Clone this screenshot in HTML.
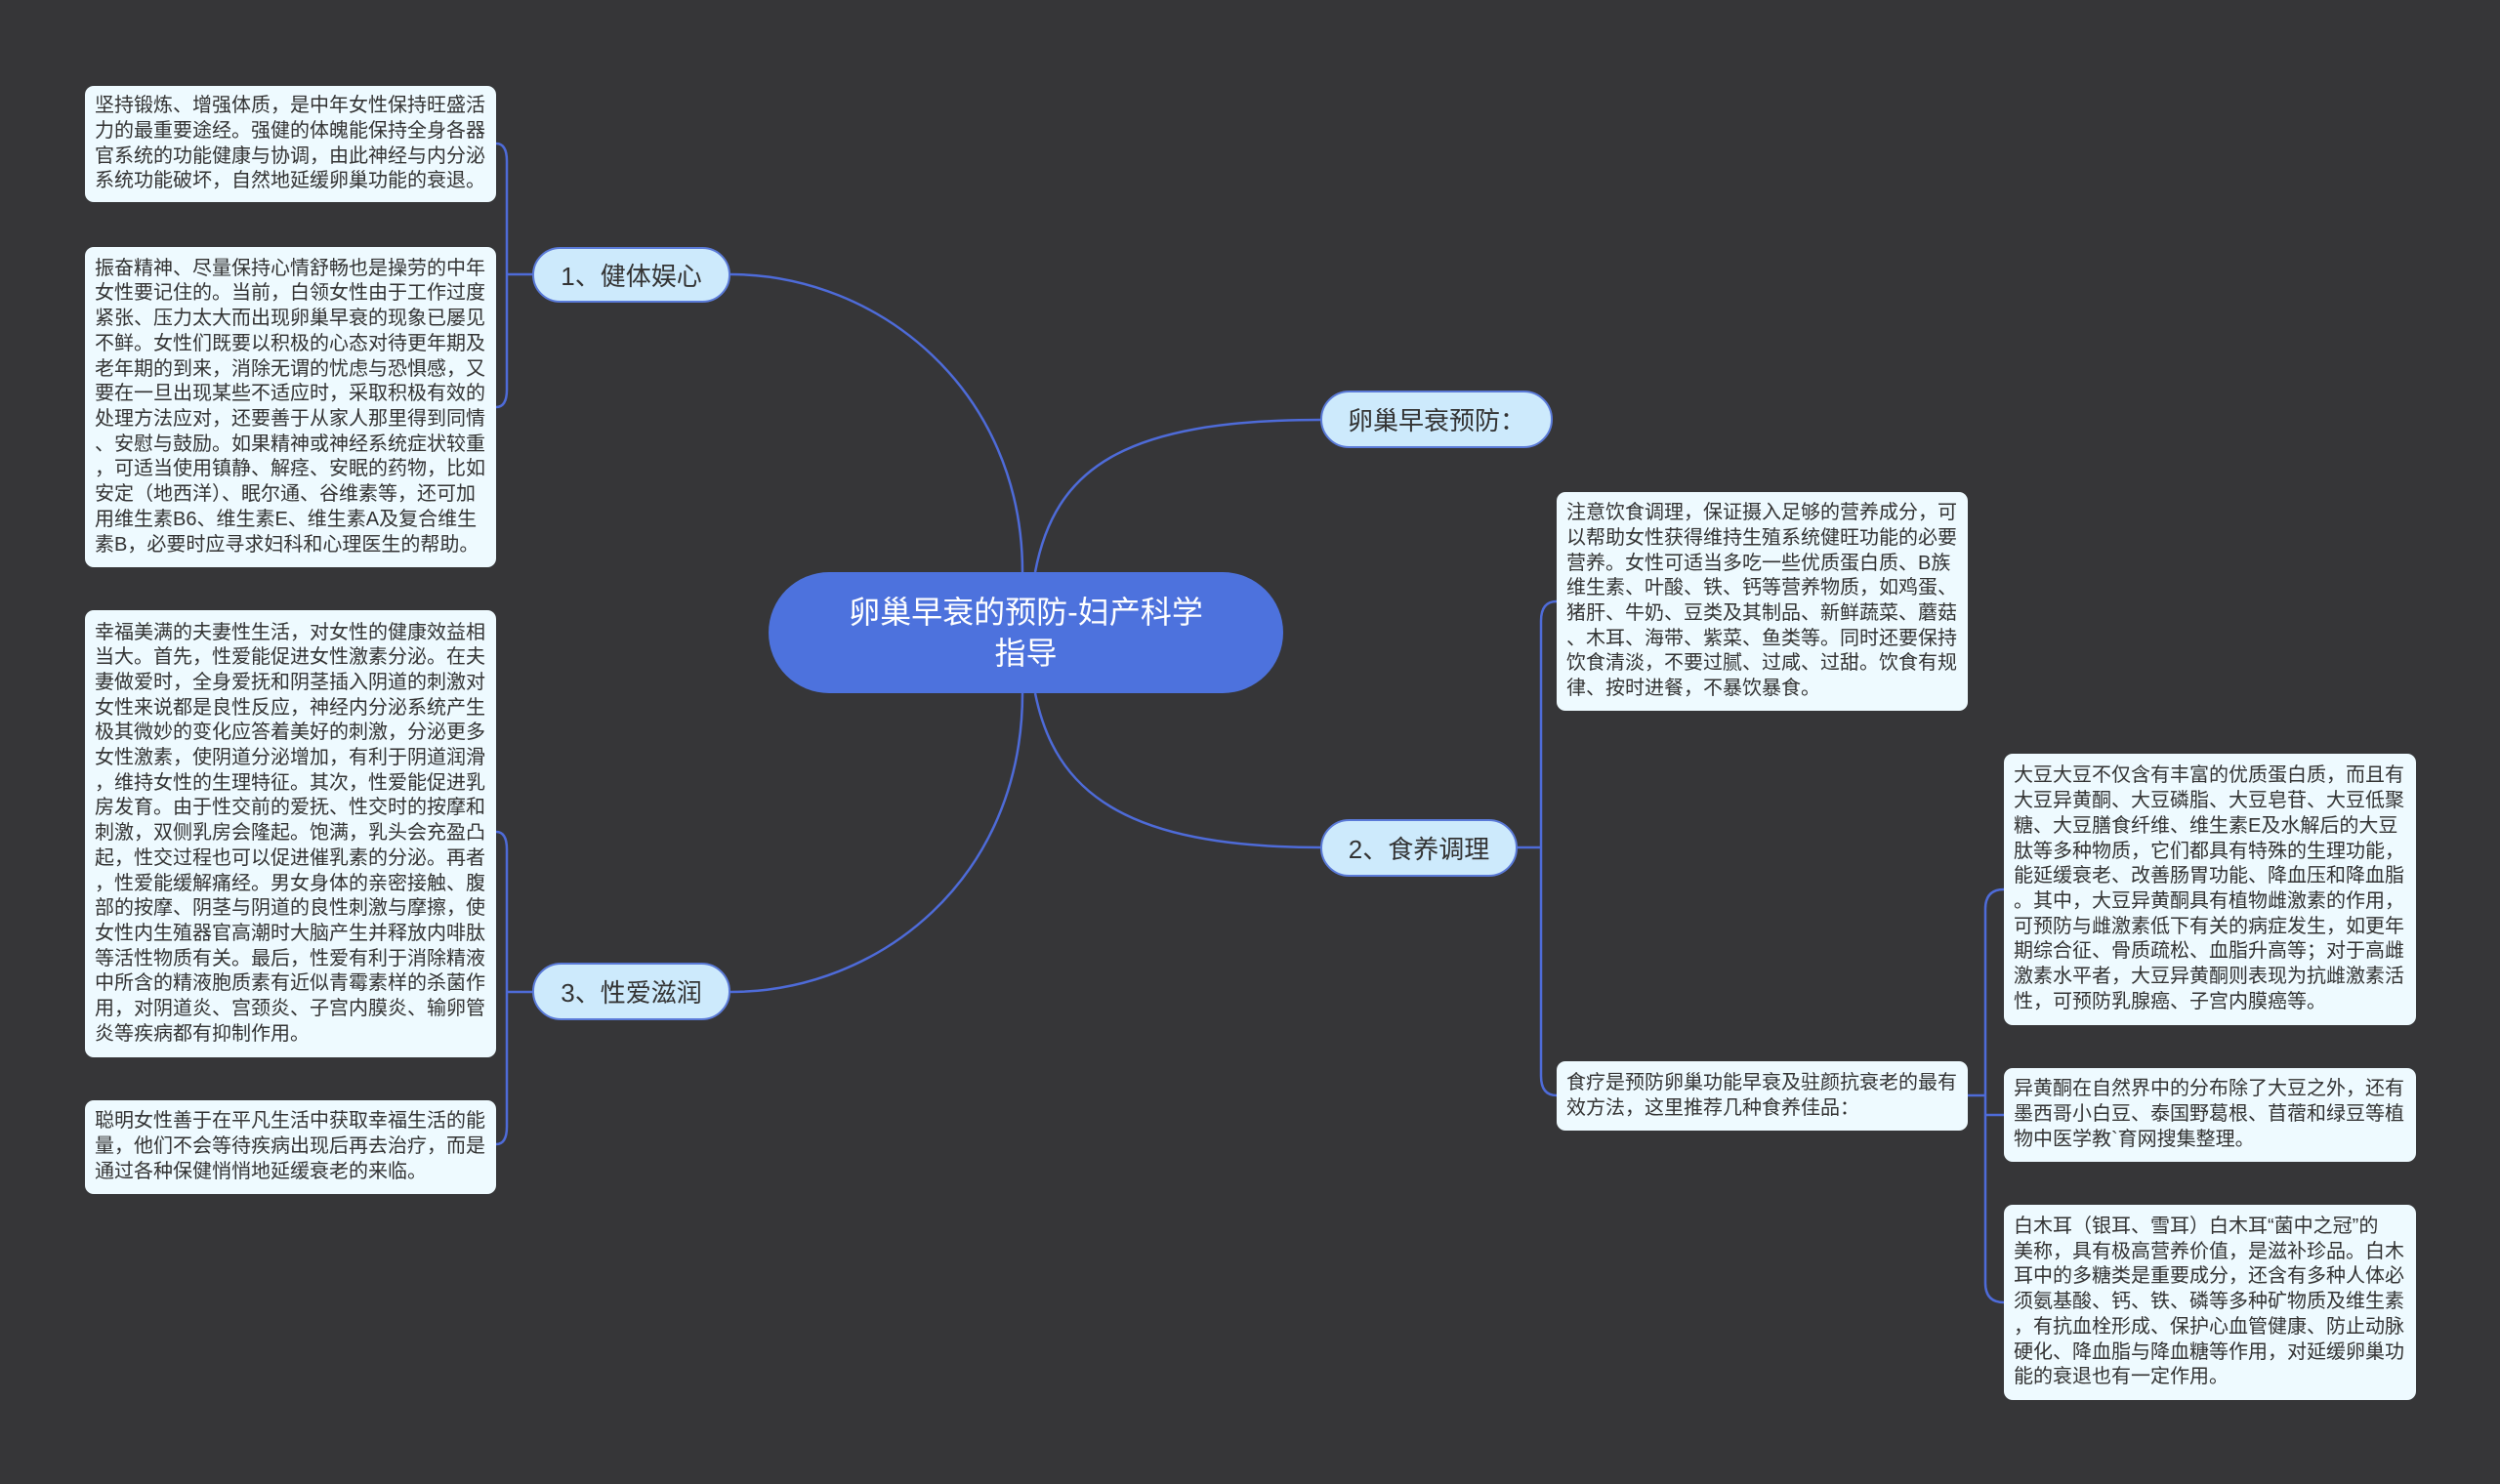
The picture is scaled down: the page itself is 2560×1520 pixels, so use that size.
<!DOCTYPE html>
<html><head><meta charset="utf-8"><style>
body{margin:0;width:2560px;height:1520px;background:#363638;overflow:hidden;position:relative;font-family:"Liberation Sans","Noto Sans CJK SC",sans-serif;}
.b{position:absolute;background:#eefaff;border-radius:9px;box-sizing:border-box;padding:0 10px;display:flex;align-items:center;font-size:20px;line-height:25.7px;color:#333;white-space:nowrap;letter-spacing:0;}
.n{position:absolute;background:#cdeafc;border:2px solid #5a7ad8;border-radius:30px;box-sizing:border-box;display:flex;align-items:center;justify-content:center;font-size:26px;color:#333;}
.c{position:absolute;background:#4d72dd;border-radius:62px;display:flex;align-items:center;justify-content:center;text-align:center;font-size:32px;line-height:42px;color:#fff;}
svg{position:absolute;left:0;top:0}
</style></head><body>
<svg width="2560" height="1520" fill="none" stroke="#4e6bd8" stroke-width="2.5">
<path d="M1047 586 C1047 400 900 281 748 281"/>
<path d="M1047 710 C1047 900 900 1016 748 1016"/>
<path d="M1060 586 C1080 480 1150 430 1352 430"/>
<path d="M1060 710 C1080 810 1150 868 1352 868"/>
<path d="M545 281 H519"/>
<path d="M508 147 Q519 147 519 165 V399 Q519 417 508 417"/>
<path d="M545 1016 H519"/>
<path d="M508 852 Q519 852 519 870 V1154 Q519 1172 508 1172"/>
<path d="M1554 868 H1578"/>
<path d="M1594 616 Q1578 616 1578 636 V1102 Q1578 1122 1594 1122"/>
<path d="M2015 1122 H2033"/>
<path d="M2052 911 Q2033 911 2033 931 V1314 Q2033 1334 2052 1334"/>
<path d="M2033 1142 H2052"/>
</svg>
<div class="c" style="left:787px;top:586px;width:527px;height:124px">卵巢早衰的预防-妇产科学<br>指导</div>
<div class="n" style="left:545px;top:253px;width:203px;height:57px">1、健体娱心</div>
<div class="n" style="left:545px;top:986px;width:203px;height:59px">3、性爱滋润</div>
<div class="n" style="left:1352px;top:400px;width:238px;height:59px">卵巢早衰预防：</div>
<div class="n" style="left:1352px;top:839px;width:202px;height:59px">2、食养调理</div>

<div class="b" style="left:87px;top:88px;width:421px;height:119px">坚持锻炼、增强体质，是中年女性保持旺盛活<br>力的最重要途经。强健的体魄能保持全身各器<br>官系统的功能健康与协调，由此神经与内分泌<br>系统功能破坏，自然地延缓卵巢功能的衰退。</div>
<div class="b" style="left:87px;top:253px;width:421px;height:328px">振奋精神、尽量保持心情舒畅也是操劳的中年<br>女性要记住的。当前，白领女性由于工作过度<br>紧张、压力太大而出现卵巢早衰的现象已屡见<br>不鲜。女性们既要以积极的心态对待更年期及<br>老年期的到来，消除无谓的忧虑与恐惧感，又<br>要在一旦出现某些不适应时，采取积极有效的<br>处理方法应对，还要善于从家人那里得到同情<br>、安慰与鼓励。如果精神或神经系统症状较重<br>，可适当使用镇静、解痉、安眠的药物，比如<br>安定（地西洋）、眠尔通、谷维素等，还可加<br>用维生素B6、维生素E、维生素A及复合维生<br>素B，必要时应寻求妇科和心理医生的帮助。</div>
<div class="b" style="left:87px;top:625px;width:421px;height:458px">幸福美满的夫妻性生活，对女性的健康效益相<br>当大。首先，性爱能促进女性激素分泌。在夫<br>妻做爱时，全身爱抚和阴茎插入阴道的刺激对<br>女性来说都是良性反应，神经内分泌系统产生<br>极其微妙的变化应答着美好的刺激，分泌更多<br>女性激素，使阴道分泌增加，有利于阴道润滑<br>，维持女性的生理特征。其次，性爱能促进乳<br>房发育。由于性交前的爱抚、性交时的按摩和<br>刺激，双侧乳房会隆起。饱满，乳头会充盈凸<br>起，性交过程也可以促进催乳素的分泌。再者<br>，性爱能缓解痛经。男女身体的亲密接触、腹<br>部的按摩、阴茎与阴道的良性刺激与摩擦，使<br>女性内生殖器官高潮时大脑产生并释放内啡肽<br>等活性物质有关。最后，性爱有利于消除精液<br>中所含的精液胞质素有近似青霉素样的杀菌作<br>用，对阴道炎、宫颈炎、子宫内膜炎、输卵管<br>炎等疾病都有抑制作用。</div>
<div class="b" style="left:87px;top:1127px;width:421px;height:96px">聪明女性善于在平凡生活中获取幸福生活的能<br>量，他们不会等待疾病出现后再去治疗，而是<br>通过各种保健悄悄地延缓衰老的来临。</div>
<div class="b" style="left:1594px;top:504px;width:421px;height:224px">注意饮食调理，保证摄入足够的营养成分，可<br>以帮助女性获得维持生殖系统健旺功能的必要<br>营养。女性可适当多吃一些优质蛋白质、B族<br>维生素、叶酸、铁、钙等营养物质，如鸡蛋、<br>猪肝、牛奶、豆类及其制品、新鲜蔬菜、蘑菇<br>、木耳、海带、紫菜、鱼类等。同时还要保持<br>饮食清淡，不要过腻、过咸、过甜。饮食有规<br>律、按时进餐，不暴饮暴食。</div>
<div class="b" style="left:1594px;top:1087px;width:421px;height:71px">食疗是预防卵巢功能早衰及驻颜抗衰老的最有<br>效方法，这里推荐几种食养佳品：</div>
<div class="b" style="left:2052px;top:772px;width:422px;height:278px">大豆大豆不仅含有丰富的优质蛋白质，而且有<br>大豆异黄酮、大豆磷脂、大豆皂苷、大豆低聚<br>糖、大豆膳食纤维、维生素E及水解后的大豆<br>肽等多种物质，它们都具有特殊的生理功能，<br>能延缓衰老、改善肠胃功能、降血压和降血脂<br>。其中，大豆异黄酮具有植物雌激素的作用，<br>可预防与雌激素低下有关的病症发生，如更年<br>期综合征、骨质疏松、血脂升高等；对于高雌<br>激素水平者，大豆异黄酮则表现为抗雌激素活<br>性，可预防乳腺癌、子宫内膜癌等。</div>
<div class="b" style="left:2052px;top:1094px;width:422px;height:96px">异黄酮在自然界中的分布除了大豆之外，还有<br>墨西哥小白豆、泰国野葛根、苜蓿和绿豆等植<br>物中医学教`育网搜集整理。</div>
<div class="b" style="left:2052px;top:1234px;width:422px;height:200px">白木耳（银耳、雪耳）白木耳“菌中之冠”的<br>美称，具有极高营养价值，是滋补珍品。白木<br>耳中的多糖类是重要成分，还含有多种人体必<br>须氨基酸、钙、铁、磷等多种矿物质及维生素<br>，有抗血栓形成、保护心血管健康、防止动脉<br>硬化、降血脂与降血糖等作用，对延缓卵巢功<br>能的衰退也有一定作用。</div>
</body></html>
